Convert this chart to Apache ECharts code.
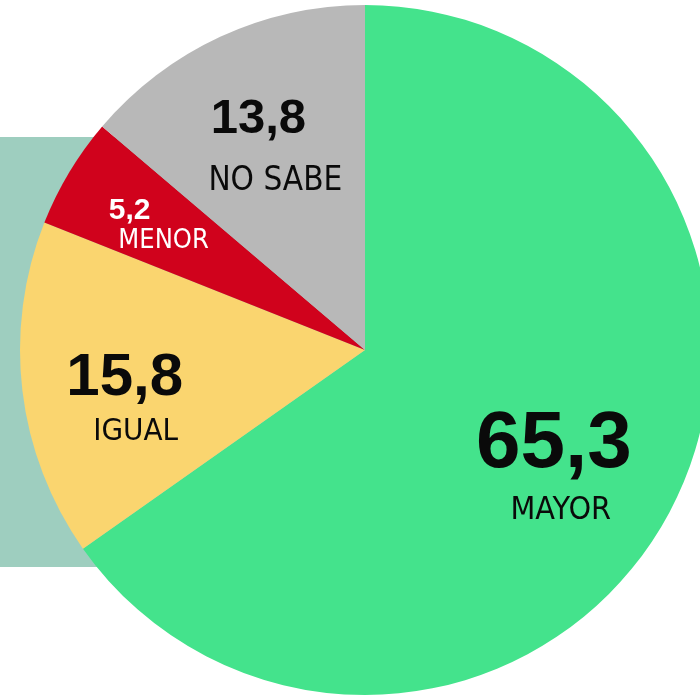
<!DOCTYPE html>
<html>
<head>
<meta charset="utf-8">
<script src="https://cdn.jsdelivr.net/npm/echarts@6/dist/echarts.min.js"></script>
<style>
  html, body { margin: 0; padding: 0; background: #fff; }
  #chart { width: 700px; height: 696px; }
</style>
</head>
<body>
<div id="chart"></div>
<script>
// datos (sentido horario desde arriba)
const categories = ["MAYOR", "IGUAL", "MENOR", "NO SABE"]
const values = [65.3, 15.8, 5.2, 13.8]

// estilos por sector
const colors = ["#44e38c", "#fad56f", "#d0021c", "#b8b8b8"]
const textColors = ["#0a0a0a", "#0a0a0a", "#fff", "#0a0a0a"]
const numSize = [80, 60, 30, 49]
const nameSize = [32, 31, 27, 33]
const numLine = [90, 66, 28, 70]
const nameLine = [42, 40, 32, 54]
const numPadRight = [14, 22, 68, 34]
// desplazamiento de la etiqueta respecto a la posicion "inside"
const labelShift = [[40, 35], [-55, 28], [-51, -33], [-16, -44]]

const narrow = "'Liberation Sans Narrow', 'Arial Narrow', 'DejaVu Sans Condensed', sans-serif"

let seriesData = categories.map((name, i) => ({
  name: name,
  value: values[i],
  itemStyle: { color: colors[i] },
  label: {
    color: textColors[i],
    rich: {
      num: {
        fontFamily: "'Liberation Sans', Arial, sans-serif",
        fontWeight: "bold",
        fontSize: numSize[i],
        lineHeight: numLine[i],
        color: textColors[i],
        padding: [0, numPadRight[i], 0, 0],
      },
      name: {
        fontFamily: narrow,
        fontSize: nameSize[i],
        lineHeight: nameLine[i],
        color: textColors[i],
      },
    },
  },
}))

let chart = echarts.init(document.getElementById("chart"), null, { renderer: "canvas" })

let option = {
  animation: false,
  backgroundColor: "#fff",
  graphic: [
    {
      type: "rect",
      z: -10,
      shape: { x: 0, y: 137, width: 370, height: 430 },
      style: { fill: "#9ecebf" },
      silent: true,
    },
  ],
  series: [
    {
      type: "pie",
      center: [365, 350],
      radius: 345,
      startAngle: 90,
      clockwise: true,
      silent: true,
      z: 5,
      itemStyle: { borderWidth: 0 },
      label: {
        show: true,
        position: "inside",
        formatter: p => "{num|" + String(p.value).replace(".", ",") + "}\n{name|" + p.name + "}",
      },
      labelLine: { show: false },
      labelLayout: params => ({
        dx: labelShift[params.dataIndex][0],
        dy: labelShift[params.dataIndex][1],
      }),
      data: seriesData,
    },
  ],
}

chart.setOption(option)
</script>
</body>
</html>
